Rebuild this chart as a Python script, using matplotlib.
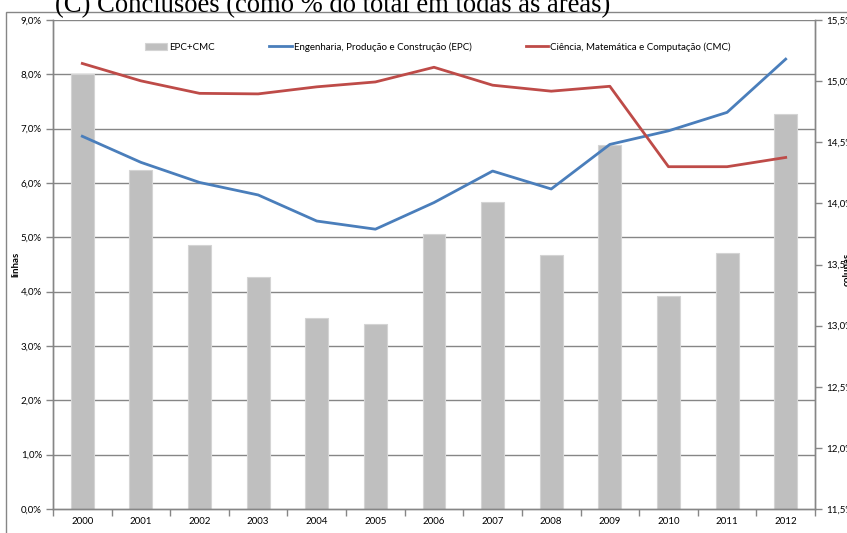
import matplotlib.pyplot as plt
from matplotlib.patches import Rectangle

years = ["2000", "2001", "2002", "2003", "2004", "2005", "2006",
         "2007", "2008", "2009", "2010", "2011", "2012"]
# right axis (colunas)
epc_cmc = [15.06, 14.27, 13.66, 13.40, 13.06, 13.01, 13.75,
           14.01, 13.58, 14.48, 13.24, 13.59, 14.73]
# left axis (linhas)
epc = [6.86, 6.38, 6.01, 5.78, 5.30, 5.15, 5.64,
       6.22, 5.89, 6.71, 6.96, 7.30, 8.28]
cmc = [8.20, 7.88, 7.65, 7.64, 7.77, 7.86, 8.13,
       7.80, 7.69, 7.78, 6.30, 6.30, 6.47]

left_ticks = [0, 1, 2, 3, 4, 5, 6, 7, 8, 9]
right_ticks = [11.5, 12.0, 12.5, 13.0, 13.5, 14.0, 14.5, 15.0, 15.5]

def pct(v):
    return ("%.1f%%" % v).replace(".", ",")

def main():
    plt.rcParams["font.family"] = ["Lato", "DejaVu Sans"]
    fig = plt.figure(figsize=(8.47, 5.33), dpi=100)
    ax = fig.add_axes([53/847, 1-509/533, 762/847, 489/533])
    ax2 = ax.twinx()
    ax.set_zorder(ax2.get_zorder() + 1)
    ax.patch.set_visible(False)

    x = list(range(len(years)))
    grey = "#868686"

    # gridlines follow the left axis but sit behind the bars
    ax2.hlines(left_ticks[1:], 0, 1, transform=ax.get_yaxis_transform(),
               color=grey, lw=1, zorder=0.5)
    ax2.bar(x, epc_cmc, width=0.39, color="#BFBFBF", edgecolor="#D4D4D4",
            lw=0.8, zorder=1, label="EPC+CMC")
    ax.plot(x, epc, color="#4A7EBB", lw=2, label="Engenharia, Produção e Construção (EPC)")
    ax.plot(x, cmc, color="#BE4B48", lw=2, label="Ciência, Matemática e Computação (CMC)")

    ax.set_xlim(-0.5, len(years) - 0.5)
    ax.set_ylim(0, 9)
    ax2.set_ylim(11.5, 15.5)

    ax.set_yticks(left_ticks)
    ax.set_yticklabels([pct(v) for v in left_ticks])
    ax2.set_yticks(right_ticks)
    ax2.set_yticklabels([pct(v) for v in right_ticks])
    ax.set_xticks(x)
    ax.set_xticklabels(years)
    ax.set_xticks([i - 0.5 for i in range(len(years) + 1)], minor=True)

    for a in (ax, ax2):
        a.spines["top"].set_visible(False)
        for s in ("left", "right", "bottom"):
            a.spines[s].set_color(grey)
            a.spines[s].set_linewidth(1)
        a.tick_params(axis="y", colors=grey, labelcolor="black", labelsize=7,
                      length=5, width=1, pad=3)
    ax.tick_params(axis="x", which="major", length=0, labelsize=7, pad=6)
    ax.tick_params(axis="x", which="minor", length=5, width=1, color=grey)

    ax.set_ylabel("linhas", fontsize=7, fontweight="bold")
    ax.yaxis.set_label_coords(-0.0425, 0.50)
    ax2.set_ylabel("colunas", fontsize=7, fontweight="bold", rotation=90)
    ax2.yaxis.set_label_coords(1.036, 0.49)

    h1, l1 = ax2.get_legend_handles_labels()
    h2, l2 = ax.get_legend_handles_labels()
    ax.legend(h1 + h2, l1 + l2, loc="center", bbox_to_anchor=(0.505, 0.945),
              ncol=3, frameon=False, fontsize=7, handlelength=2.3,
              handletextpad=0.2, columnspacing=5.6)

    # outer chart border and the clipped caption above it
    fig.patches.append(Rectangle((6/847, -0.01), 850/847, 1-12/533 + 0.01,
                                 transform=fig.transFigure, fill=False,
                                 edgecolor=grey, lw=1))
    fig.text(55/847, 1-12/533, "(C) Conclusões (como % do total em todas as áreas)",
             family="Liberation Serif", fontsize=19.2, va="baseline", ha="left")

    fig.savefig("out.png", dpi=100)

if __name__ == "__main__":
    main()
